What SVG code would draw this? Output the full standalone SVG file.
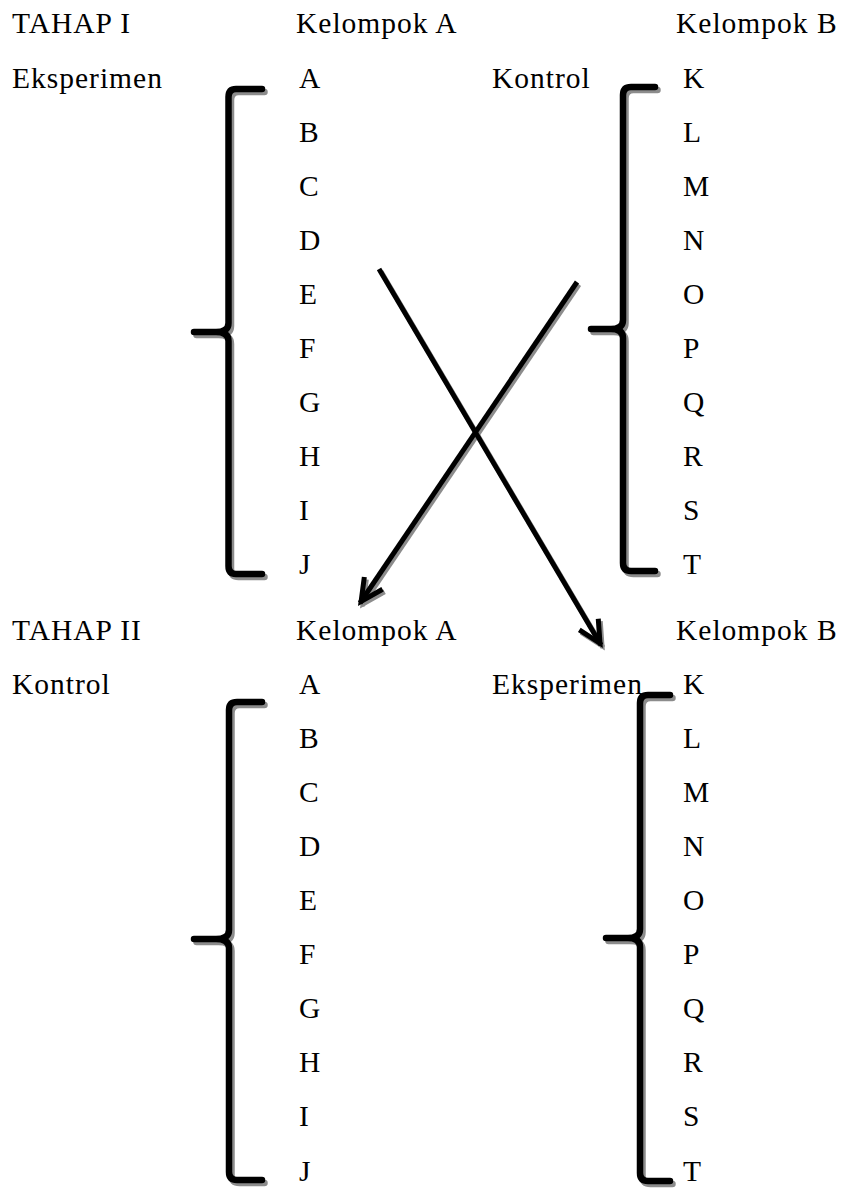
<svg xmlns="http://www.w3.org/2000/svg" width="841" height="1195" viewBox="0 0 841 1195">
<style>
.t text{font-family:'Liberation Serif','Times New Roman',serif;font-size:29.5px;letter-spacing:1px;fill:#000}
.br{fill:none;stroke:#000;stroke-width:6.5;stroke-linecap:round;stroke-linejoin:round}
.brs{fill:none;stroke:#8c8c8c;stroke-width:6.5;stroke-linecap:round;stroke-linejoin:round}
.ar{fill:none;stroke:#000;stroke-width:5}
.ars{fill:none;stroke:#8c8c8c;stroke-width:5}
</style>
<defs>
<marker id="ah" markerUnits="userSpaceOnUse" orient="auto" markerWidth="40" markerHeight="40" refX="2" refY="0" viewBox="-30 -20 40 40" overflow="visible">
<path d="M-22,-11 L0,0 L-22,11" fill="none" stroke="#000" stroke-width="5" stroke-linejoin="miter"/>
</marker>
<marker id="ahs" markerUnits="userSpaceOnUse" orient="auto" markerWidth="40" markerHeight="40" refX="2" refY="0" viewBox="-30 -20 40 40" overflow="visible">
<path d="M-22,-11 L0,0 L-22,11" fill="none" stroke="#8c8c8c" stroke-width="5" stroke-linejoin="miter"/>
</marker>
</defs>
<rect width="841" height="1195" fill="#fff"/>

<g class="t">
<g id="stage1-labels">
<text x="12" y="33.4">TAHAP I</text>
<text x="296" y="33.4">Kelompok A</text>
<text x="676" y="33.4">Kelompok B</text>
<text x="12" y="88">Eksperimen</text>
<text x="492" y="88">Kontrol</text>
</g>

<g id="stage1-groupA">
<path class="brs" transform="translate(2.5,3)" d="M262,89 L236,89 Q228.5,89 228.5,97 L228.5,323 Q228.5,332 216,332 L194,332 M216,332 Q228.5,332 228.5,341 L228.5,566 Q228.5,574 236,574 L262,574"/>
<path class="br" d="M262,89 L236,89 Q228.5,89 228.5,97 L228.5,323 Q228.5,332 216,332 L194,332 M216,332 Q228.5,332 228.5,341 L228.5,566 Q228.5,574 236,574 L262,574"/>
<text x="299" y="88">A</text>
<text x="299" y="141.6">B</text>
<text x="299" y="195.7">C</text>
<text x="299" y="249.8">D</text>
<text x="299" y="303.9">E</text>
<text x="299" y="358">F</text>
<text x="299" y="412.1">G</text>
<text x="299" y="466.2">H</text>
<text x="299" y="520.3">I</text>
<text x="299" y="574.4">J</text>
</g>

<g id="stage1-groupB">
<path class="brs" transform="translate(2.5,3)" d="M655,87 L631,87 Q623,87 623,95 L623,320 Q623,329 611,329 L591,329 M611,329 Q623,329 623,338 L623,563 Q623,571 631,571 L655,571"/>
<path class="br" d="M655,87 L631,87 Q623,87 623,95 L623,320 Q623,329 611,329 L591,329 M611,329 Q623,329 623,338 L623,563 Q623,571 631,571 L655,571"/>
<text x="683" y="88">K</text>
<text x="683" y="141.6">L</text>
<text x="683" y="195.7">M</text>
<text x="683" y="249.8">N</text>
<text x="683" y="303.9">O</text>
<text x="683" y="358">P</text>
<text x="683" y="412.1">Q</text>
<text x="683" y="466.2">R</text>
<text x="683" y="520.3">S</text>
<text x="683" y="574.4">T</text>
</g>

<g id="stage2-labels">
<text x="12" y="639.5">TAHAP II</text>
<text x="296" y="639.5">Kelompok A</text>
<text x="676" y="639.5">Kelompok B</text>
<text x="12" y="693.6">Kontrol</text>
<text x="492" y="693.6">Eksperimen</text>
</g>

<g id="stage2-groupA">
<path class="brs" transform="translate(2.5,3)" d="M262,702 L237,702 Q229,702 229,710 L229,930 Q229,939 216,939 L194,939 M216,939 Q229,939 229,948 L229,1172 Q229,1180 237,1180 L262,1180"/>
<path class="br" d="M262,702 L237,702 Q229,702 229,710 L229,930 Q229,939 216,939 L194,939 M216,939 Q229,939 229,948 L229,1172 Q229,1180 237,1180 L262,1180"/>
<text x="299" y="693.6">A</text>
<text x="299" y="747.7">B</text>
<text x="299" y="801.8">C</text>
<text x="299" y="855.9">D</text>
<text x="299" y="910">E</text>
<text x="299" y="964.1">F</text>
<text x="299" y="1018.2">G</text>
<text x="299" y="1072.3">H</text>
<text x="299" y="1126.4">I</text>
<text x="299" y="1180.5">J</text>
</g>

<g id="stage2-groupB">
<path class="brs" transform="translate(2.5,3)" d="M670,695 L648,695 Q640,695 640,703 L640,929 Q640,938 628,938 L606,938 M628,938 Q640,938 640,947 L640,1173 Q640,1181 648,1181 L670,1181"/>
<path class="br" d="M670,695 L648,695 Q640,695 640,703 L640,929 Q640,938 628,938 L606,938 M628,938 Q640,938 640,947 L640,1173 Q640,1181 648,1181 L670,1181"/>
<text x="683" y="693.6">K</text>
<text x="683" y="747.7">L</text>
<text x="683" y="801.8">M</text>
<text x="683" y="855.9">N</text>
<text x="683" y="910">O</text>
<text x="683" y="964.1">P</text>
<text x="683" y="1018.2">Q</text>
<text x="683" y="1072.3">R</text>
<text x="683" y="1126.4">S</text>
<text x="683" y="1180.5">T</text>
</g>
</g>

<g id="connectors">
<g transform="translate(2,2.5)">
<path class="ars" d="M379,269 L601,645" marker-end="url(#ahs)"/>
<path class="ars" d="M577,282 L360,603" marker-end="url(#ahs)"/>
</g>
<path class="ar" d="M379,269 L601,645" marker-end="url(#ah)"/>
<path class="ar" d="M577,282 L360,603" marker-end="url(#ah)"/>
</g>
</svg>
